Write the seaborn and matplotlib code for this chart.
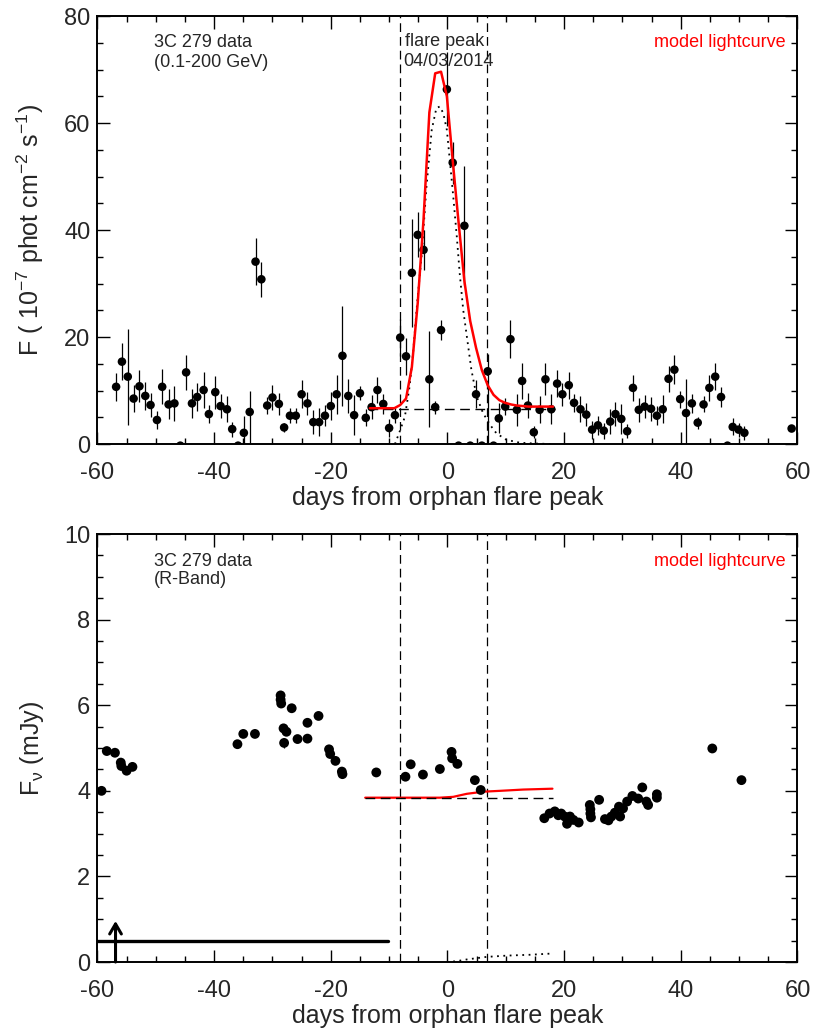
import matplotlib
matplotlib.use("Agg")
import matplotlib.pyplot as plt
import seaborn as sns
import pandas as pd
from matplotlib.ticker import MultipleLocator

# ---------------- top panel: Fermi-LAT gamma-ray light curve ----------------
gev_x = [-56.8, -55.8, -54.8, -53.8, -52.8, -51.8, -50.9, -49.8, -48.9, -47.8,
         -46.8, -45.8, -44.8, -43.8, -42.9, -41.8, -40.9, -39.8, -38.9, -37.8,
         -36.9, -35.9, -34.9, -33.9, -32.9, -31.9, -30.9, -30.0, -28.9, -28.0,
         -27.0, -26.0, -25.0, -24.0, -23.0, -22.0, -21.0, -20.0, -19.0, -18.0,
         -17.0, -16.0, -15.0, -14.0, -13.0, -12.0, -11.0, -10.0,
         -9.0, -8.1, -7.1, -6.1, -5.1, -4.1, -3.1, -2.1, -1.1, -0.1,
         0.9, 1.9, 2.9, 3.9, 4.9, 5.9, 6.9, 7.9, 8.8, 9.9,
         10.8, 11.9, 12.8, 13.8, 14.8, 15.8, 16.8, 17.8, 18.8, 19.7,
         20.8, 21.7,
         22.8, 23.8, 24.8, 25.8, 26.8, 27.9, 28.8, 29.8, 30.8, 31.8,
         32.8, 33.8, 34.9, 35.9, 36.9, 37.9, 38.9, 39.9, 40.9, 41.9,
         42.9, 43.9, 44.9, 45.9, 46.9, 48.0, 48.9, 49.9, 50.9, 59.0]
gev_y = [10.7, 15.4, 12.6, 8.5, 10.8, 9.0, 7.3, 4.5, 10.7, 7.4,
         7.6, -0.3, 13.4, 7.6, 8.8, 10.1, 5.6, 9.7, 7.1, 6.5,
         2.8, -0.3, 2.1, 6.0, 34.1, 30.8, 7.2, 8.7, 7.5, 3.1,
         5.3, 5.3, 9.3, 7.6, 4.1, 4.1, 5.3, 7.1, 9.3, 16.5,
         9.0, 5.4, 9.5, 4.9, 6.9, 10.1, 7.5, 3.0,
         5.4, 19.9, 16.4, 32.0, 39.1, 36.3, 12.1, 6.9, 21.3, 66.3,
         52.6, -0.3, 40.8, -0.3, 9.3, -0.3, 13.6, -0.3, 4.8, 7.0,
         19.6, 6.4, 11.8, 7.2, 2.2, 6.4, 12.1, 6.5, 11.3, 9.3,
         11.0, 7.7,
         6.5, 5.5, 2.7, 3.5, 2.5, 4.2, 5.6, 4.7, 2.4, 10.5,
         6.4, 7.0, 6.6, 5.3, 6.5, 12.2, 13.9, 8.4, 5.8, 7.6,
         4.0, 7.4, 10.5, 12.6, 8.8, -0.3, 3.2, 2.7, 2.1, 2.9]
gev_err_hi = [2.6, 3.4, 9.0, 2.6, 3.0, 2.6, 2.2, 1.7, 3.3, 2.8,
              3.2, 0.0, 3.3, 2.7, 2.6, 3.4, 1.7, 3.1, 2.2, 2.4,
              1.4, 0.0, 3.1, 3.9, 4.4, 3.3, 1.6, 2.3, 2.1, 0.8,
              1.4, 1.4, 2.6, 2.1, 2.3, 2.6, 2.0, 2.6, 3.6, 9.3,
              3.2, 3.7, 1.3, 1.6, 2.2, 2.5, 1.9, 1.6,
              1.4, 3.4, 3.4, 10.1, 4.2, 3.7, 9.0, 1.2, 1.8, 6.9,
              3.9, 0.0, 11.1, 0.0, 2.6, 0.0, 3.3, 0.0, 2.8, 1.6,
              3.6, 3.0, 3.3, 2.3, 1.1, 2.5, 3.0, 2.8, 2.5, 2.2,
              2.5, 1.7,
              2.4, 2.2, 1.7, 1.8, 1.5, 2.3, 2.3, 2.8, 1.3, 2.5,
              2.2, 2.1, 2.2, 1.8, 2.6, 2.4, 2.7, 1.6, 6.4, 1.8,
              1.1, 1.5, 2.5, 2.5, 1.9, 0.0, 1.6, 1.3, 1.3, 0.0]
gev_err_lo = [2.6, 3.4, 9.0, 2.6, 3.0, 2.6, 2.2, 1.7, 3.3, 2.8,
              3.2, 0.0, 3.3, 2.7, 2.6, 3.4, 1.7, 3.1, 2.2, 2.4,
              1.4, 0.0, 3.1, 8.0, 4.4, 3.3, 1.6, 2.3, 2.1, 0.8,
              1.4, 1.4, 2.6, 2.1, 2.3, 2.6, 2.0, 2.6, 3.6, 9.3,
              3.2, 3.7, 1.3, 1.6, 2.2, 2.5, 1.9, 1.6,
              1.4, 3.4, 3.4, 10.1, 4.2, 3.7, 9.0, 1.2, 1.8, 6.9,
              3.9, 0.0, 11.1, 0.0, 2.6, 0.0, 14.0, 0.0, 2.8, 1.6,
              3.6, 3.0, 3.3, 2.3, 1.1, 2.5, 3.0, 2.8, 2.5, 2.2,
              2.5, 1.7,
              2.4, 2.2, 1.7, 1.8, 1.5, 2.3, 2.3, 2.8, 1.3, 2.5,
              2.2, 2.1, 2.2, 1.8, 2.6, 2.4, 2.7, 1.6, 6.4, 1.8,
              1.1, 1.5, 2.5, 2.5, 1.9, 0.0, 1.6, 1.3, 1.3, 0.0]

# model light curve (red), flare component (dotted), baseline (dashed)
gev_model_x = [-13.3, -12.1, -11.1, -10.1, -9.1, -8.1, -7.1, -6.1, -5.1, -4.1,
               -3.1, -2.1, -1.1, -0.1, 0.9, 1.9, 2.9, 3.9, 4.9, 5.9,
               6.9, 7.9, 8.9, 9.9, 10.9, 11.9, 12.9, 13.9, 14.9, 15.9,
               16.9, 18.1]
gev_model_y = [6.7, 6.7, 6.7, 6.7, 6.7, 7.3, 8.5, 14.4, 26.3, 42.0,
               62.0, 69.3, 69.6, 65.0, 53.0, 41.5, 30.5, 23.0, 18.0, 13.8,
               11.0, 9.2, 8.2, 7.7, 7.4, 7.2, 7.1, 7.0, 7.0, 7.0,
               7.0, 7.0]
gev_flare_x = [-9.0, -8.1, -7.3, -6.5, -5.9, -5.2, -4.4, -3.6, -2.7, -1.9,
               -1.3, -0.7, -0.1, 0.4, 1.0, 1.6, 2.1, 2.7, 3.4, 4.1,
               5.0, 6.1, 7.3, 8.4, 10.1, 12.4, 15.0, 18.1]
gev_flare_y = [0.0, 2.6, 5.1, 10.7, 16.9, 26.3, 35.6, 48.1, 58.7, 62.8,
               63.1, 61.8, 58.7, 53.1, 46.2, 38.8, 31.9, 25.1, 19.5, 13.9,
               8.9, 5.8, 3.6, 2.0, 0.8, 0.25, 0.1, 0.0]
gev_base_x = [-13.6, 18.4]
gev_base_y = [6.5, 6.5]

# flare window
window_x = [-8.1, 6.85]

# ---------------- bottom panel: optical R-band ----------------
opt_x = [-59.3, -58.4, -57.0, -56.0, -55.9, -55.0, -54.0, -36.0, -35.0, -33.0,
         -28.6, -28.6, -28.5, -28.1, -27.6, -28.0, -26.7, -25.7, -24.0, -24.0,
         -22.1, -20.3, -20.1, -19.2, -18.1, -18.0, -12.2, -7.2, -6.3, -4.2,
         -1.3, 0.7, 0.8, 1.7, 4.7, 5.7, 16.6, 17.5, 18.4, 19.0,
         19.5, 20.1, 20.5, 21.0, 21.6, 22.5, 24.4, 24.5, 24.5, 24.6,
         26.0, 27.0, 27.6, 28.1, 28.7, 29.4, 29.6, 30.1, 30.8, 31.7,
         32.7, 33.4, 34.1, 34.4, 35.9, 35.9, 45.4, 50.4]
opt_y = [4.00, 4.93, 4.89, 4.66, 4.58, 4.47, 4.56, 5.09, 5.33, 5.33,
         6.23, 6.13, 6.04, 5.46, 5.38, 5.12, 5.93, 5.21, 5.59, 5.22,
         5.75, 4.97, 4.86, 4.70, 4.45, 4.39, 4.43, 4.33, 4.62, 4.38,
         4.51, 4.91, 4.76, 4.63, 4.25, 4.02, 3.36, 3.47, 3.52, 3.43,
         3.47, 3.40, 3.23, 3.40, 3.32, 3.26, 3.67, 3.57, 3.47, 3.38,
         3.79, 3.34, 3.31, 3.40, 3.49, 3.63, 3.40, 3.59, 3.75, 3.88,
         3.82, 4.08, 3.75, 3.67, 3.92, 3.84, 4.99, 4.25]
opt_err = [0.0, 0.0, 0.0, 0.0, 0.0, 0.0, 0.0, 0.0, 0.0, 0.0,
           0.0, 0.0, 0.0, 0.0, 0.0, 0.12, 0.0, 0.0, 0.0, 0.0,
           0.0, 0.0, 0.0, 0.0, 0.0, 0.0, 0.0, 0.0, 0.0, 0.0,
           0.0, 0.0, 0.0, 0.0, 0.0, 0.0, 0.0, 0.0, 0.0, 0.0,
           0.0, 0.0, 0.0, 0.0, 0.0, 0.0, 0.0, 0.0, 0.0, 0.0,
           0.0, 0.0, 0.0, 0.0, 0.0, 0.0, 0.0, 0.0, 0.0, 0.0,
           0.0, 0.0, 0.0, 0.0, 0.0, 0.0, 0.0, 0.0]
opt_model_x = [-14.1, -1.3, 1.0, 3.3, 6.1, 9.0, 13.0, 18.0]
opt_model_y = [3.84, 3.84, 3.86, 3.93, 3.98, 4.00, 4.03, 4.05]
opt_flare_x = [-0.1, 1.6, 3.3, 5.0, 6.7, 10.2, 14.2, 18.1]
opt_flare_y = [0.0, 0.02, 0.06, 0.09, 0.12, 0.15, 0.17, 0.20]
opt_base_x = [-14.1, 18.1]
opt_base_y = [3.84, 3.84]
# limit bar and arrow
lim_x = [-60.0, -10.2]
lim_y = [0.49, 0.49]
arrow_x = [-56.9]
arrow_y = [0.0, 0.96]

xticks = [-60, -40, -20, 0, 20, 40, 60]
top_yticks = [0, 20, 40, 60, 80]
bot_yticks = [0, 2, 4, 6, 8, 10]

# ---------------- style ----------------
sns.set_theme(style="ticks")
plt.rcParams["font.family"] = ["Liberation Sans", "DejaVu Sans"]
plt.rcParams["mathtext.fontset"] = "custom"
plt.rcParams["mathtext.rm"] = "Liberation Sans"
plt.rcParams["mathtext.it"] = "Liberation Sans:italic"
plt.rcParams["mathtext.default"] = "regular"
plt.rcParams["axes.unicode_minus"] = False

fig = plt.figure(figsize=(8.3, 10.31), dpi=100)
ax1 = fig.add_axes([0.1174, 0.5693, 0.8434, 0.4151])
ax2 = fig.add_axes([0.1174, 0.0669, 0.8434, 0.4151])

TICK_FS = 17
LAB_FS = 18
ANN_FS = 13


def style_axes(ax, yticks, yminor):
    ax.set_xlim(-60, 60)
    ax.set_xticks(xticks)
    ax.set_yticks(yticks)
    ax.xaxis.set_minor_locator(MultipleLocator(5))
    ax.yaxis.set_minor_locator(MultipleLocator(yminor))
    ax.tick_params(which="both", direction="in", top=True, right=True,
                   color="black", width=1.0)
    ax.tick_params(which="major", length=9, labelsize=TICK_FS)
    ax.tick_params(axis="x", which="major", pad=13)
    ax.tick_params(axis="y", which="major", pad=5)
    ax.tick_params(which="minor", length=4.5)
    for s in ax.spines.values():
        s.set_linewidth(1.4)
        s.set_color("black")
    ax.set_xlabel("days from orphan flare peak", fontsize=LAB_FS)
    ax.xaxis.set_label_coords(0.5, -0.097)
    ax.yaxis.set_label_coords(-0.073, 0.5)


# ---- top panel ----
ax1.errorbar(gev_x, gev_y, yerr=[gev_err_lo, gev_err_hi], fmt="none",
             ecolor="black", elinewidth=0.9, capsize=0, zorder=2)
sns.scatterplot(x=gev_x, y=gev_y, color="black", s=38, edgecolor="none",
                ax=ax1, zorder=3, legend=False)
for xv in window_x:
    ax1.axvline(xv, color="black", lw=0.9, ls=(0, (7, 4)), zorder=1)
sns.lineplot(x=gev_base_x, y=gev_base_y, color="black", lw=1.0,
             ax=ax1, zorder=2, sort=False, estimator=None)
ax1.lines[-1].set_linestyle((0, (7, 4)))
sns.lineplot(x=gev_flare_x, y=gev_flare_y, color="black", lw=1.3,
             ax=ax1, zorder=2, sort=False, estimator=None)
ax1.lines[-1].set_linestyle((0, (1, 2.5)))
sns.lineplot(x=gev_model_x, y=gev_model_y, color="red", lw=1.8,
             ax=ax1, zorder=4, sort=False, estimator=None)
ax1.set_ylim(0, 80)
style_axes(ax1, top_yticks, 5)
ax1.set_ylabel(r"F ( 10$^{-7}$ phot cm$^{-2}$ s$^{-1}$)", fontsize=LAB_FS)

ax1.text(-50.3, 75.1, "3C 279 data", fontsize=ANN_FS, va="center", ha="left")
ax1.text(-50.3, 71.4, "(0.1-200 GeV)", fontsize=ANN_FS, va="center", ha="left")
ax1.text(-7.3, 75.3, "flare peak", fontsize=ANN_FS, va="center", ha="left")
ax1.text(-7.6, 71.5, "04/03/2014", fontsize=ANN_FS, va="center", ha="left")
ax1.text(58.0, 75.1, "model lightcurve", fontsize=ANN_FS, va="center",
         ha="right", color="red")

# ---- bottom panel ----
ax2.errorbar(opt_x, opt_y, yerr=opt_err, fmt="none", ecolor="black",
             elinewidth=0.9, capsize=0, zorder=2)
sns.scatterplot(x=opt_x, y=opt_y, color="black", s=50, edgecolor="none",
                ax=ax2, zorder=3, legend=False)
for xv in window_x:
    ax2.axvline(xv, color="black", lw=0.9, ls=(0, (7, 4)), zorder=1)
sns.lineplot(x=opt_model_x, y=opt_model_y, color="red", lw=1.6,
             ax=ax2, zorder=2, sort=False, estimator=None)
sns.lineplot(x=opt_base_x, y=opt_base_y, color="black", lw=1.0,
             ax=ax2, zorder=3, sort=False, estimator=None)
ax2.lines[-1].set_linestyle((0, (7, 4)))
sns.lineplot(x=opt_flare_x, y=opt_flare_y, color="black", lw=1.3,
             ax=ax2, zorder=2, sort=False, estimator=None)
ax2.lines[-1].set_linestyle((0, (1, 2.5)))
sns.lineplot(x=lim_x, y=lim_y, color="black", lw=2.4, ax=ax2, zorder=3,
             sort=False, estimator=None)
ax2.annotate("", xy=(arrow_x[0], arrow_y[1]), xytext=(arrow_x[0], arrow_y[0]),
             arrowprops=dict(arrowstyle="->,head_length=0.6,head_width=0.35",
                             lw=2.2, color="black", shrinkA=0, shrinkB=0),
             zorder=4)
ax2.set_ylim(0, 10)
style_axes(ax2, bot_yticks, 0.5)
ax2.set_ylabel(r"F$_{\nu}$ (mJy)", fontsize=LAB_FS)

ax2.text(-50.3, 9.35, "3C 279 data", fontsize=ANN_FS, va="center", ha="left")
ax2.text(-50.3, 8.93, "(R-Band)", fontsize=ANN_FS, va="center", ha="left")
ax2.text(58.0, 9.35, "model lightcurve", fontsize=ANN_FS, va="center",
         ha="right", color="red")

fig.savefig("out.png", dpi=100)
